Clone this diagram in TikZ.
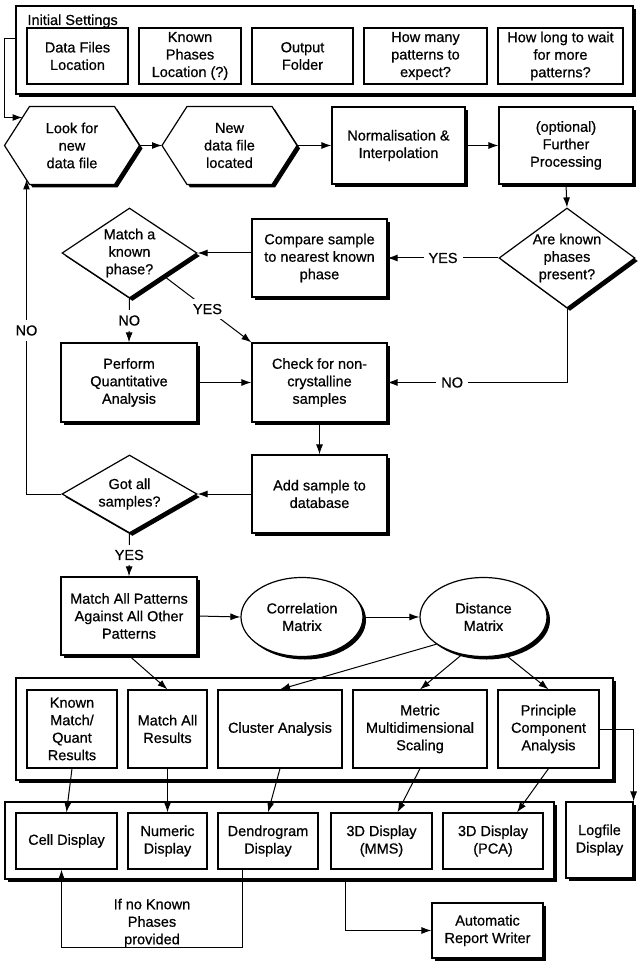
\documentclass[tikz,border=0pt]{standalone}
\usepackage{fontspec}
\setmainfont{Liberation Sans}[FakeBold=0.6]
\usetikzlibrary{arrows.meta,calc,positioning,shapes.geometric,shadows,backgrounds}

\tikzset{
  shad/.style={drop shadow={shadow xshift=3pt,shadow yshift=-3pt,opacity=1,fill=black}},
  txt/.style={align=center,inner sep=1pt},
  box/.style={draw,line width=1.2pt,fill=white,align=center,inner sep=0pt},
  sbox/.style={box,shad},
  hexa/.style={align=center,inner sep=0pt,minimum width=134pt,minimum height=77pt},
  hexline/.style={draw,line width=1.2pt,fill=white,shad},
  dia/.style={diamond,draw,line width=1.2pt,fill=white,shad,inner sep=0pt},
  ell/.style={ellipse,draw,line width=1.2pt,fill=white,shad,align=center,inner sep=0pt},
  lab/.style={fill=white,inner sep=5pt}
}

\begin{document}
\begin{tikzpicture}[x=1pt,y=-1pt,>={Latex[length=10pt,width=7pt]},line width=1pt,font=\fontsize{14.5pt}{17.5pt}\selectfont]
  \useasboundingbox (0,0) rectangle (640,965);
  \node[sbox,minimum width=617pt,minimum height=88pt] (settings) at (324.5,50) {};
  \node[anchor=base west,inner sep=0pt] (settitle) at (27,25) {Initial Settings};
  \foreach \n/\x/\w/\t in {dataloc/77.5/101/{Data Files\\Location},phaseloc/190/102/{Known\\Phases\\Location (?)},outfolder/302.5/101/{Output\\Folder},howmany/425.5/123/{How many\\patterns to\\expect?},howlong/560.5/125/{How long to wait\\for more\\patterns?}}
    \node[box,minimum width=\w pt,minimum height=56pt] (\n) at (\x,56) {\t};
  \node[hexa] (lookfor) at (72,145.5) {Look for\\new\\data file};
  \node[hexa] (newfile) at (229.5,145.5) {New\\data file\\located};
  \begin{scope}[on background layer]
    \foreach \h in {lookfor,newfile}
      \path[hexline] (\h.west) -- ([xshift=25pt]\h.north west) -- ([xshift=-25pt]\h.north east) -- (\h.east) -- ([xshift=-25pt]\h.south east) -- ([xshift=25pt]\h.south west) -- cycle;
  \end{scope}
  \node[sbox,minimum width=133pt,minimum height=77pt] (norm) at (398.5,145.5) {Normalisation \&\\Interpolation};
  \node[sbox,minimum width=134pt,minimum height=77pt] (further) at (566,145.5) {(optional)\\Further\\Processing};
  \node[dia,minimum width=136pt,minimum height=100pt,label={[txt]center:Are known\\phases\\present?}] (known) at (567,258) {};
  \node[sbox,minimum width=135pt,minimum height=78pt] (compare) at (319.5,258) {Compare sample\\to nearest known\\phase};
  \node[dia,minimum width=135pt,minimum height=90pt,label={[txt]center:Match a\\known\\phase?}] (match) at (129.5,253) {};
  \node[sbox,minimum width=136pt,minimum height=79pt] (perform) at (129,382.5) {Perform\\Quantitative\\Analysis};
  \node[sbox,minimum width=135pt,minimum height=79pt] (check) at (319.5,382.5) {Check for non-\\crystalline\\samples};
  \node[sbox,minimum width=135pt,minimum height=78pt] (addsample) at (319.5,494) {Add sample to\\database};
  \node[dia,minimum width=135pt,minimum height=78pt,label={[txt]center:Got all\\samples?}] (gotall) at (129.5,494) {};
  \node[sbox,minimum width=136pt,minimum height=78pt] (matchall) at (129,616) {Match All Patterns\\Against All Other\\Patterns};
  \node[ell,minimum width=122pt,minimum height=79pt] (corr) at (302,617) {Correlation\\Matrix};
  \node[ell,minimum width=127pt,minimum height=79pt] (dist) at (483.5,617) {Distance\\Matrix};
  \node[sbox,minimum width=597pt,minimum height=102pt] (analysis) at (314.5,729) {};
  \foreach \n/\x/\w/\t in {kmq/72/90/{Known\\Match/\\Quant\\Results},mar/167.5/79/{Match All\\Results},cluster/280/124/{Cluster Analysis},metric/420/134/{Metric\\Multidimensional\\Scaling},pca/548.5/101/{Principle\\Component\\Analysis}}
    \node[box,minimum width=\w pt,minimum height=78pt] (\n) at (\x,729) {\t};
  \node[sbox,minimum width=549pt,minimum height=77pt] (display) at (279.5,840.5) {};
  \foreach \n/\x/\w/\t in {cell/66.5/101/{Cell Display},numeric/167.5/79/{Numeric\\Display},dendro/268/100/{Dendrogram\\Display},mms/381.5/101/{3D Display\\(MMS)},pcadisp/493/100/{3D Display\\(PCA)}}
    \node[box,minimum width=\w pt,minimum height=56pt] (\n) at (\x,841) {\t};
  \node[sbox,minimum width=67pt,minimum height=76pt] (logfile) at (599.5,840) {Logfile\\Display};
  \node[sbox,minimum width=111pt,minimum height=55pt] (report) at (487.5,930.5) {Automatic\\Report Writer};
  \node[txt] (noknown) at (152,923) {If no Known\\Phases\\provided};
  \draw[->] ([yshift=11pt]settings.west) -| ($(lookfor.west)+(0,-28)$) -- ($(lookfor.west)+(18,-28)$);
  \draw[->] (lookfor.east) -- (newfile.west);
  \draw[->] (newfile.east) -- (norm.west);
  \draw[->] (norm.east) -- (further.west);
  \draw[->] (further.south) -- (known.north);
  \draw[->] (known.west) -- node[lab]{YES} (compare.east);
  \draw[->] (compare.west |- match.east) -- (match.east);
  \draw[->] (known.south) |- node[lab,pos=0.82]{NO} (check.east);
  \draw[->] (match.south) -- node[lab]{NO} (perform.north);
  \draw[->] (match.south east) -- node[lab]{YES} (check.north west);
  \draw[->] (perform.east) -- (check.west);
  \draw[->] (check.south) -- (addsample.north);
  \draw[->] (addsample.west) -- (gotall.east);
  \draw[->] (gotall.west) -| node[lab,pos=0.76]{NO} ($(lookfor.west)+(22,34)$);
  \draw[->] (gotall.south) -- node[lab]{YES} (matchall.north);
  \draw[->] (matchall.east) -- (corr.west);
  \draw[->] (corr.east) -- (dist.west);
  \draw[->] (matchall.south) -- (mar.north);
  \draw[->] (dist.210) -- (cluster.north);
  \draw[->] (dist.240) -- (metric.north);
  \draw[->] (dist.300) -- (pca.north);
  \draw[->] (kmq.south) -- (cell.north);
  \draw[->] (mar.south) -- (numeric.north);
  \draw[->] (cluster.south) -- (dendro.north);
  \draw[->] (metric.south) -- ([xshift=16pt]mms.north);
  \draw[->] (pca.south) -- ([xshift=24pt]pcadisp.north);
  \draw[->] (pca.east) -| (logfile.north east);
  \draw[->] ([xshift=25pt]dendro.south west) -- ++(0,78) -| ([xshift=-5pt]cell.south);
  \draw[->] ([xshift=15pt]mms.west |- display.south) |- (report.west);
\end{tikzpicture}
\end{document}
